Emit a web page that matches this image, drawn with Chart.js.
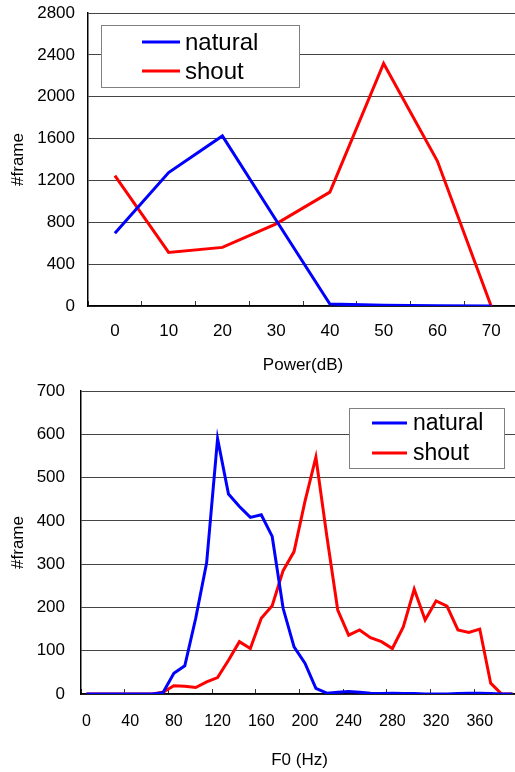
<!DOCTYPE html>
<html>
<head>
<meta charset="utf-8">
<script src="https://cdn.jsdelivr.net/npm/chart.js@4"></script>
<style>
  html, body { margin: 0; padding: 0; background: #fff; }
  body { width: 515px; height: 772px; overflow: hidden; position: relative; }
  .box { position: absolute; left: 0; width: 515px; overflow: hidden; }
  #topBox { top: 0; height: 380px; }
  #bottomBox { top: 380px; height: 392px; }
  canvas { display: block; }
</style>
</head>
<body>
<div class="box" id="topBox"><canvas id="powerChart" width="518" height="380"></canvas></div>
<div class="box" id="bottomBox"><canvas id="f0Chart" width="518" height="392"></canvas></div>
<script>
// power histogram (dB)
const powerLabels = ['0', '10', '20', '30', '40', '50', '60', '70'];
const powerNatural = [695, 1275, 1625, 820, 18, 6, 3, 0];
const powerShout = [1245, 512, 560, 785, 1088, 2318, 1385, 0];

// F0 histogram (Hz)
const f0Labels = ['0', '10', '20', '30', '40', '50', '60', '70', '80', '90',
    '100', '110', '120', '130', '140', '150', '160', '170', '180', '190',
    '200', '210', '220', '230', '240', '250', '260', '270', '280', '290',
    '300', '310', '320', '330', '340', '350', '360', '370', '380', '390'];
const f0Natural = [0, 0, 0, 0, 0, 0, 0, 3, 48, 65,
    175, 303, 590, 462, 433, 408, 414, 364, 198, 109,
    71, 13, 2, 4, 6, 4, 2, 1, 2, 1,
    1, 0, 0, 0, 1, 2, 2, 1, 0, 0];
const f0Shout = [0, 0, 0, 0, 0, 0, 0, 4, 19, 18,
    15, 28, 38, 78, 121, 105, 175, 204, 285, 329,
    445, 547, 365, 194, 136, 148, 130, 121, 105, 155,
    242, 171, 215, 203, 148, 142, 150, 25, 0, 0];

const FONT = "'Liberation Sans', Arial, sans-serif";

// legend drawn as a framed box inside the plot, like the spreadsheet original
const boxLegend = {
    id: 'boxLegend',
    afterDraw(chart, args, opts) {
        const ctx = chart.ctx;
        ctx.save();
        ctx.fillStyle = '#fff';
        ctx.fillRect(opts.x, opts.y, opts.w, opts.h);
        ctx.strokeStyle = '#808080';
        ctx.lineWidth = 1;
        ctx.strokeRect(opts.x + 0.5, opts.y + 0.5, opts.w, opts.h);
        ctx.font = opts.fontSize + 'px ' + FONT;
        ctx.textBaseline = 'middle';
        chart.data.datasets.forEach((ds, i) => {
            const y = opts.y + opts.rowTop + i * opts.rowGap;
            ctx.strokeStyle = ds.borderColor;
            ctx.lineWidth = 3;
            ctx.beginPath();
            ctx.moveTo(opts.x + opts.lineStart, y);
            ctx.lineTo(opts.x + opts.lineStart + opts.lineLen, y);
            ctx.stroke();
            ctx.fillStyle = '#000';
            ctx.fillText(ds.label, opts.x + opts.textStart, y + 1);
        });
        ctx.restore();
    }
};

function makeChart(id, cfg) {
    return new Chart(document.getElementById(id), {
        type: 'line',
        data: {
            labels: cfg.labels,
            datasets: [
                { label: 'natural', data: cfg.natural, borderColor: '#0000ff' },
                { label: 'shout', data: cfg.shout, borderColor: '#ff0000' }
            ]
        },
        options: {
            responsive: false,
            animation: false,
            devicePixelRatio: 1,
            layout: { padding: { top: cfg.padTop, right: 0, bottom: 0, left: 0 } },
            elements: {
                line: { borderWidth: 3, tension: 0, fill: false },
                point: { radius: 0 }
            },
            scales: {
                x: {
                    type: 'category',
                    offset: true,
                    afterFit: (s) => {
                        s.height = cfg.xHeight;
                        s.paddingLeft = 0;
                        s.paddingRight = 0;
                    },
                    grid: {
                        offset: true,
                        drawOnChartArea: false,
                        drawTicks: true,
                        tickLength: -5,
                        color: (c) => (c.index % cfg.every === 0 ? '#333' : 'rgba(0,0,0,0)')
                    },
                    border: { display: true, color: '#000', width: 1.5 },
                    ticks: {
                        autoSkip: false,
                        maxRotation: 0,
                        padding: cfg.xPad,
                        color: '#000',
                        font: { family: FONT, size: cfg.xFont },
                        callback: function (v, i) {
                            return i % cfg.every === 0 ? this.getLabelForValue(v) : '';
                        }
                    },
                    title: {
                        display: true,
                        text: cfg.xTitle,
                        color: '#000',
                        font: { family: FONT, size: 17 },
                        padding: { top: 0, bottom: cfg.xTitlePad }
                    }
                },
                y: {
                    min: 0,
                    max: cfg.yMax,
                    afterFit: (s) => {
                        s.width = cfg.yWidth;
                        s.paddingTop = 0;
                        s.paddingBottom = 0;
                    },
                    grid: { color: '#444', lineWidth: 1, drawTicks: false },
                    border: { display: true, color: '#000', width: 1.5 },
                    ticks: {
                        stepSize: cfg.yStep,
                        padding: cfg.yPad,
                        color: '#000',
                        font: { family: FONT, size: 17 },
                        callback: (v) => String(v)
                    },
                    title: {
                        display: true,
                        text: '#frame',
                        color: '#000',
                        font: { family: FONT, size: 17 },
                        padding: { top: 8, bottom: 0 }
                    }
                }
            },
            plugins: {
                legend: { display: false },
                tooltip: { enabled: false },
                boxLegend: cfg.legend
            }
        },
        plugins: [boxLegend]
    });
}

makeChart('powerChart', {
    labels: powerLabels,
    natural: powerNatural,
    shout: powerShout,
    every: 1,
    padTop: 13,
    xHeight: 74,
    xPad: 20,
    xFont: 17,
    xTitle: 'Power(dB)',
    xTitlePad: 4,
    yMax: 2800,
    yStep: 400,
    yWidth: 88,
    yPad: 13,
    legend: { x: 101, y: 25, w: 198, h: 62, rowTop: 17, rowGap: 29, lineStart: 41, lineLen: 38, textStart: 84, fontSize: 24 }
});

makeChart('f0Chart', {
    labels: f0Labels,
    natural: f0Natural,
    shout: f0Shout,
    every: 4,
    padTop: 11,
    xHeight: 78,
    xPad: 23,
    xFont: 16,
    xTitle: 'F0 (Hz)',
    xTitlePad: 1,
    yMax: 700,
    yStep: 100,
    yWidth: 81,
    yPad: 16,
    legend: { x: 349, y: 28, w: 155, h: 60, rowTop: 15, rowGap: 30, lineStart: 23, lineLen: 35, textStart: 64, fontSize: 23 }
});
</script>
</body>
</html>
